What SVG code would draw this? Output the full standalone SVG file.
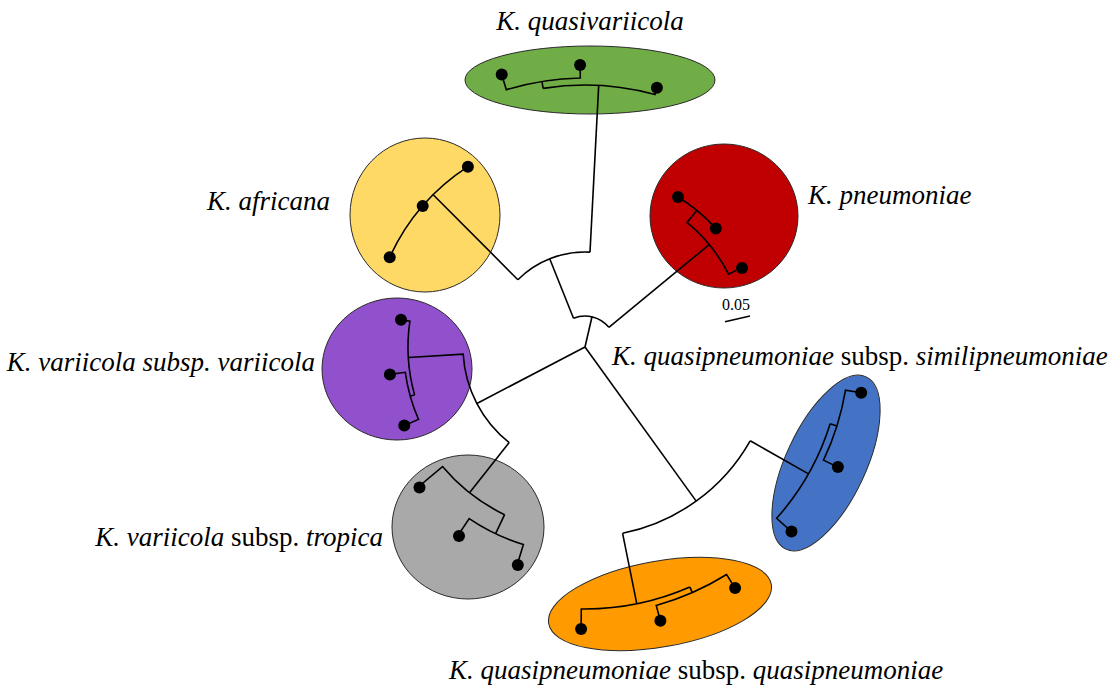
<svg xmlns="http://www.w3.org/2000/svg" width="1110" height="689" viewBox="0 0 1110 689">
<style>
.bg{fill:#ffffff}
.clade{stroke:#2a2a2a;stroke-width:1}
.br{fill:none;stroke:#000;stroke-width:1.6;stroke-linejoin:miter}
.dot{fill:#000}
.lbl{font-family:"Liberation Serif","Times New Roman",serif;font-size:27px;fill:#000}
.it{font-style:italic}
.sc{font-family:"Liberation Serif","Times New Roman",serif;font-size:16px;fill:#000}
</style>
<rect class="bg" x="0" y="0" width="1110" height="689"/>

<g id="clade-quasivariicola">
<ellipse class="clade" cx="590" cy="80" rx="125" ry="34" fill="#70AD47"/>
</g>
<g id="clade-africana">
<ellipse class="clade" cx="425" cy="215" rx="75" ry="77" fill="#FFD966"/>
</g>
<g id="clade-pneumoniae">
<ellipse class="clade" cx="724" cy="216" rx="74" ry="72" fill="#C00000"/>
</g>
<g id="clade-variicola">
<ellipse class="clade" cx="397" cy="369" rx="75" ry="71" fill="#9150CC"/>
</g>
<g id="clade-tropica">
<ellipse class="clade" cx="468" cy="527" rx="76" ry="72" fill="#A9A9A9"/>
</g>
<g id="clade-similipneumoniae">
<ellipse class="clade" cx="826" cy="463" rx="95" ry="40" transform="rotate(-65 826 463)" fill="#4472C4"/>
</g>
<g id="clade-quasipneumoniae">
<ellipse class="clade" cx="660" cy="604" rx="113" ry="43" transform="rotate(-10 660 604)" fill="#FF9A00"/>
</g>

<g id="connectors">
<!-- root branches -->
<path class="br" d="M585,347 L592,316.8"/>
<path class="br" d="M573.5,318.2 A31,31 0 0 1 608.9,327.3"/>
<path class="br" d="M573.5,318.2 L549.7,258.8"/>
<path class="br" d="M517.9,279.7 A95,95 0 0 1 590,252.1"/>
<!-- africana -->
<path class="br" d="M517.9,279.7 L433.2,194.7"/>
<path class="br" d="M389.7,257.2 A215,215 0 0 1 467.9,166.7"/>
<!-- quasivariicola -->
<path class="br" d="M590,252.1 L598.7,85.4"/>
<path class="br" d="M543.1,88.4 A262,262 0 0 1 655,94.5 L656.9,87.8"/>
<path class="br" d="M543.1,88.4 L542,81.5"/>
<path class="br" d="M501.7,74.5 L506.3,89.8 A269,269 0 0 1 580.3,78 L580.1,65"/>
<!-- pneumoniae -->
<path class="br" d="M608.9,327.3 L709.2,244.6"/>
<path class="br" d="M696.8,210.4 L687,222.4 A161,161 0 0 1 728.6,274.2 L742,267.4"/>
<path class="br" d="M678,197 A176.5,176.5 0 0 1 715.8,228.4"/>
<!-- variicola / tropica -->
<path class="br" d="M585,347 L476.9,403.5"/>
<path class="br" d="M509.2,442.6 A122,122 0 0 1 463.2,354.2 L408.3,357.5"/>
<path class="br" d="M414.6,394.9 A177,177 0 0 1 409.9,321.1 L401,319.8"/>
<path class="br" d="M414.6,394.9 L410.3,396.1"/>
<path class="br" d="M404.3,425.5 L418.5,419.4 A181.5,181.5 0 0 1 405.3,372.3 L389.9,374.4"/>
<path class="br" d="M509.2,442.6 L469.5,492.8"/>
<path class="br" d="M504.6,514.7 A186,186 0 0 1 442.5,466.6 L418.8,486.5"/>
<path class="br" d="M504.6,514.7 L495.6,533.7"/>
<path class="br" d="M517.2,564.7 L523.4,544.6 A207,207 0 0 1 469.2,518.6 L458.1,535.2"/>
<!-- quasipneumoniae / similipneumoniae -->
<path class="br" d="M585,347 L696.2,501.1"/>
<path class="br" d="M750.2,440.8 A190,190 0 0 1 622.6,533.3"/>
<path class="br" d="M750.2,440.8 L808.5,473.9"/>
<path class="br" d="M830.2,423.8 A257,257 0 0 1 776.6,518.3 L791.5,531.6"/>
<path class="br" d="M830.2,423.8 L836.9,425.9"/>
<path class="br" d="M861.2,392.7 L845.5,390.1 A264,264 0 0 1 823.5,460.2 L837.9,467.1"/>
<path class="br" d="M622.6,533.3 L636.8,603.8"/>
<path class="br" d="M689.9,587.1 A262,262 0 0 1 581.3,609 L581.1,629"/>
<path class="br" d="M689.9,587.1 L692.3,592.6"/>
<path class="br" d="M735.1,588.1 L726.6,574.5 A268,268 0 0 1 656.2,605.4 L660.4,620.8"/>
<!-- scale bar -->
<path class="br" d="M725,321.7 L750,316"/>
</g>

<g id="leaves">
<circle class="dot" cx="389.7" cy="257.2" r="6"/>
<circle class="dot" cx="422.7" cy="205.9" r="6"/>
<circle class="dot" cx="467.9" cy="166.7" r="6"/>
<circle class="dot" cx="501.7" cy="74.5" r="6"/>
<circle class="dot" cx="580.1" cy="65" r="6"/>
<circle class="dot" cx="656.9" cy="87.8" r="6"/>
<circle class="dot" cx="678" cy="197" r="6"/>
<circle class="dot" cx="715.8" cy="228.4" r="6"/>
<circle class="dot" cx="742" cy="268" r="6"/>
<circle class="dot" cx="401" cy="319.8" r="6"/>
<circle class="dot" cx="389.9" cy="374.4" r="6"/>
<circle class="dot" cx="404.3" cy="425.5" r="6"/>
<circle class="dot" cx="419.5" cy="487.5" r="6"/>
<circle class="dot" cx="459" cy="536" r="6"/>
<circle class="dot" cx="517.8" cy="565" r="6"/>
<circle class="dot" cx="861.2" cy="392.7" r="6"/>
<circle class="dot" cx="837.9" cy="467.1" r="6"/>
<circle class="dot" cx="791.5" cy="531.6" r="6"/>
<circle class="dot" cx="581.1" cy="629" r="6"/>
<circle class="dot" cx="660.4" cy="620.8" r="6"/>
<circle class="dot" cx="735.1" cy="588.1" r="6"/>
</g>

<g id="labels">
<text class="lbl it" x="590" y="30" text-anchor="middle">K. quasivariicola</text>
<text class="lbl it" x="330" y="210" text-anchor="end">K. africana</text>
<text class="lbl it" x="808" y="204">K. pneumoniae</text>
<text class="lbl it" x="315" y="371" text-anchor="end">K. variicola subsp. variicola</text>
<text class="lbl" x="612" y="365"><tspan class="it">K. quasipneumoniae</tspan> subsp. <tspan class="it">similipneumoniae</tspan></text>
<text class="lbl" x="383" y="546" text-anchor="end"><tspan class="it">K. variicola</tspan> subsp. <tspan class="it">tropica</tspan></text>
<text class="lbl" x="696" y="679" text-anchor="middle"><tspan class="it">K. quasipneumoniae</tspan> subsp. <tspan class="it">quasipneumoniae</tspan></text>
<text class="sc" x="722" y="310">0.05</text>
</g>
</svg>
